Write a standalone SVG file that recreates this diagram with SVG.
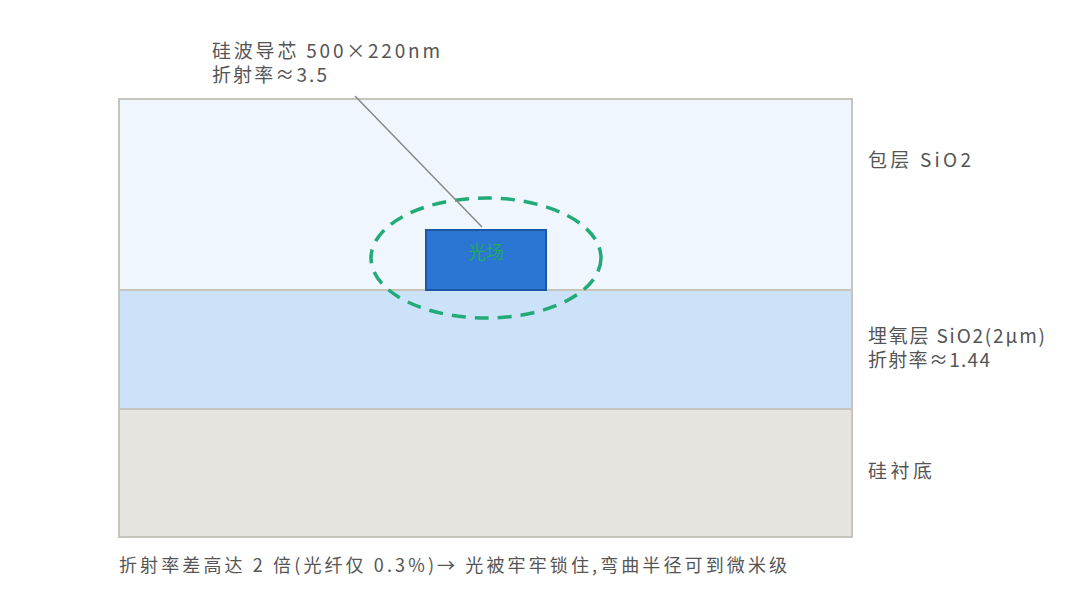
<svg xmlns="http://www.w3.org/2000/svg" width="1080" height="612" viewBox="0 0 1080 612">
<style>
.t{font-family:"Noto Sans CJK SC",sans-serif;fill:#555;font-size:19px}
.layer{stroke:#c6c4bc;stroke-width:2}
</style>
<rect width="1080" height="612" fill="#fff"/>
<g id="cladding"><rect class="layer" x="119" y="99" width="733" height="191" fill="#f0f6fd"/></g>
<g id="box"><rect class="layer" x="119" y="290" width="733" height="119" fill="#cce2f9"/></g>
<g id="substrate"><rect class="layer" x="119" y="409" width="733" height="128" fill="#e6e4df"/></g>
<g id="core">
<rect x="426" y="230" width="120" height="60" fill="#2a76d2" stroke="#1c56a6" stroke-width="2"/>
<text x="486" y="259" text-anchor="middle" font-family="'Noto Sans CJK SC',sans-serif" font-size="18" fill="#22aa66">光场</text>
</g>
<g id="field"><ellipse cx="486" cy="258" rx="115" ry="60" fill="none" stroke="#22aa77" stroke-width="3.5" stroke-dasharray="14 9"/></g>
<g id="connectors"><line x1="355" y1="96" x2="482" y2="227" stroke="#888" stroke-width="1.5"/></g>
<g id="labels">
<text class="t" x="212" y="58" textLength="228">硅波导芯 500×220nm</text>
<text class="t" x="212" y="82" textLength="115">折射率≈3.5</text>
<text class="t" x="868" y="167" textLength="103">包层 SiO2</text>
<text class="t" x="868" y="343" textLength="177">埋氧层 SiO2(2μm)</text>
<text class="t" x="868" y="367" textLength="122">折射率≈1.44</text>
<text class="t" x="868" y="478" textLength="64">硅衬底</text>
<text class="t" x="119" y="572" style="font-size:18px" textLength="668">折射率差高达 2 倍(光纤仅 0.3%)→ 光被牢牢锁住,弯曲半径可到微米级</text>
</g>
</svg>
